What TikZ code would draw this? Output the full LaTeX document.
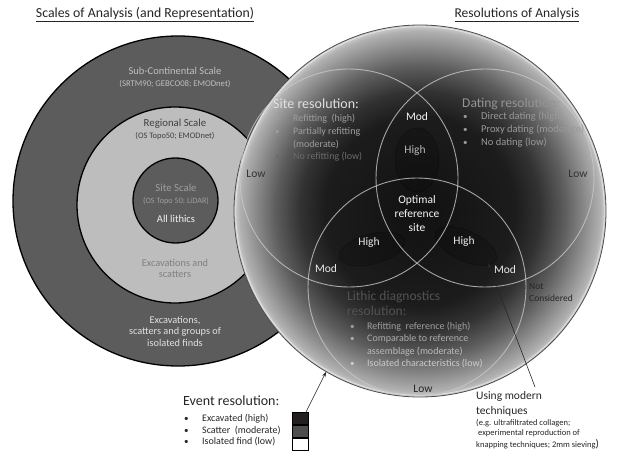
\documentclass[tikz,border=0pt]{standalone}
\usepackage{fontspec}
\setmainfont{Carlito}
\usetikzlibrary{arrows.meta}
\definecolor{ringdark}{HTML}{5C5C5C}
\definecolor{ringlight}{HTML}{BDBDBD}
\definecolor{gA}{HTML}{111111}
\definecolor{gB}{HTML}{1C1C1C}
\definecolor{gC}{HTML}{323232}
\definecolor{gD}{HTML}{5E5E5E}
\definecolor{gE}{HTML}{8C8C8C}
\definecolor{gF}{HTML}{B0B0B0}
\definecolor{gG}{HTML}{CFCFCF}
\definecolor{vennline}{HTML}{C8C8C8}
\definecolor{swgray}{HTML}{4D4D4D}
\definecolor{swblack}{HTML}{231F20}
\pgfdeclareradialshading{bigball}{\pgfpoint{0bp}{0bp}}{color(0bp)=(gA); color(12.8bp)=(gB); color(16.1bp)=(gC); color(19.5bp)=(gD); color(22.2bp)=(gE); color(24.2bp)=(gF); color(25bp)=(gG); color(50bp)=(gG)}
\begin{document}
\begin{tikzpicture}[x=1pt,y=-1pt,
  txt/.style={inner sep=0pt, anchor=mid},
  ltxt/.style={inner sep=0pt, anchor=mid west},
  fsz/.style={font=\fontsize{#1}{#1}\selectfont},
  ring/.style={circle, inner sep=0pt, draw=black, line width=1.3pt},
  venn/.style={circle, inner sep=0pt, draw=vennline, line width=0.9pt, opacity=0.8},
  loop/.style={fill=black, fill opacity=0.14, draw=black, draw opacity=0.3, line width=0.6pt},
  arr/.style={draw=black!85, line width=0.6pt, -{Stealth[length=5pt,width=3.5pt]}},
  sw/.style={rectangle, inner sep=0pt, minimum width=16pt, minimum height=12.3pt, draw=black, line width=0.5pt}]
\useasboundingbox[fill=white] (0,0) rectangle (617,454);

% titles
\node[txt, fsz=13.8, text=black!85] (t1) at (145,15) {\underline{Scales of Analysis (and Representation)}};
\node[txt, fsz=13.5, text=black!85] (t2) at (517,15) {\underline{Resolutions of Analysis}};

% left concentric circles
\node[ring, fill=ringdark, minimum size=330pt] (outer) at (178,201) {};
\node[ring, fill=ringlight, minimum size=196pt] (middle) at (175,205) {};
\node[ring, fill=ringdark, minimum size=85pt] (inner) at (175.5,200.5) {};

\node[txt, fsz=10.5, text=black!25] (sc) at (175,72) {Sub-Continental Scale};
\node[txt, fsz=8.7, text=black!25] (scs) at (175,84) {(SRTM90; GEBCO08; EMODnet)};
\node[txt, fsz=10.8, text=black!75] (rs) at (175,124) {Regional Scale};
\node[txt, fsz=8.4, text=black!75] (rss) at (175,136) {(OS Topo50; EMODnet)};
\node[txt, fsz=10.8, text=black!38] (ss) at (176,189) {Site Scale};
\node[txt, fsz=8.2, text=black!38] (sss) at (176,201) {(OS Topo 50; LiDAR)};
\node[txt, fsz=10.5, text=black!5] (al) at (176,220) {All lithics};
\node[txt, fsz=10.3, text=black!50] (es1) at (175,264) {Excavations and};
\node[txt, fsz=10.3, text=black!50] (es2) at (175,275.5) {scatters};
\node[txt, fsz=10.3, text=black!12] (eg1) at (175,321) {Excavations,};
\node[txt, fsz=10.3, text=black!12] (eg2) at (175,332.5) {scatters and groups of};
\node[txt, fsz=10.3, text=black!12] (eg3) at (175,344) {isolated finds};

% big shaded circle
\node[circle, inner sep=0pt, minimum size=372pt, shading=bigball, draw=black!70, line width=0.8pt] (big) at (420,211) {};
\node[circle, inner sep=0pt, minimum size=368.5pt, draw=white, draw opacity=0.45, line width=0.9pt] (bigrim) at (big.center) {};

% dark loops
\draw[loop] (417,160) ellipse [x radius=22, y radius=32];
\draw[loop, rotate around={15:(372,249)}] (372,249) ellipse [x radius=34, y radius=15];
\draw[loop, rotate around={-25:(466,246)}] (466,246) ellipse [x radius=33, y radius=15];

% Venn circles
\node[venn, minimum size=218pt] (siteC) at (349,178) {};
\node[venn, minimum size=218pt] (dateC) at (485,178) {};
\node[venn, minimum size=218pt] (lithC) at (417,287) {};

% site resolution
\node[ltxt, fsz=14, text=black!12] (srt) at (273,106) {Site resolution:};
\foreach \yy/\tt/\cc/\nm in {119/{Refitting\ \ (high)}/38/s1, 132/{Partially refitting}/38/s2, 157/{No refitting (low)}/58/s4}{
  \node[ltxt, fsz=9, text=black!\cc] (b\nm) at (275,\yy) {•};
  \node[ltxt, fsz=10, text=black!\cc] (\nm) at (293,\yy) {\tt};
}
\node[ltxt, fsz=10, text=black!38] (s3) at (293,145) {(moderate)};

% dating resolution
\node[ltxt, fsz=13.5, text=black!42] (drt) at (462,105) {Dating resolution:};
\foreach \yy/\tt/\nm in {117/{Direct dating (high)}/d1, 130/{Proxy dating (moderate)}/d2, 143/{No dating (low)}/d3}{
  \node[ltxt, fsz=9, text=black!40] (b\nm) at (463,\yy) {•};
  \node[ltxt, fsz=10.5, text=black!40] (\nm) at (481,\yy) {\tt};
}

% lithic diagnostics
\node[ltxt, fsz=13.5, text=black!68] (lt1) at (347,298) {Lithic diagnostics};
\node[ltxt, fsz=13.5, text=black!68] (lt2) at (347,313) {resolution:};
\node[ltxt, fsz=9, text=black!38] (bl1) at (350,327) {•};
\node[ltxt, fsz=10, text=black!38] (l1) at (367,327) {Refitting\ \ reference (high)};
\node[ltxt, fsz=9, text=black!32] (bl2) at (350,339.5) {•};
\node[ltxt, fsz=10, text=black!32] (l2) at (367,339.5) {Comparable to reference};
\node[ltxt, fsz=10, text=black!26] (l3) at (367,352) {assemblage (moderate)};
\node[ltxt, fsz=9, text=black!20] (bl4) at (350,364) {•};
\node[ltxt, fsz=10, text=black!20] (l4) at (367,364) {Isolated characteristics (low)};

% region labels
\node[txt, fsz=11.5, text=black!3] (modT) at (417,118) {Mod};
\node[txt, fsz=11.5, text=black!28] (highT) at (415,151) {High};
\node[txt, fsz=11.5, text=black!3] (opt1) at (417,201) {Optimal};
\node[txt, fsz=11.5, text=black!3] (opt2) at (417,215.5) {reference};
\node[txt, fsz=11.5, text=black!3] (opt3) at (417,229.5) {site};
\node[txt, fsz=11.5, text=black!8] (highL) at (369,243) {High};
\node[txt, fsz=11.5, text=black!8] (highR) at (464,242) {High};
\node[txt, fsz=11.5, text=black!8] (modL) at (326,270) {Mod};
\node[txt, fsz=11.5, text=black!8] (modR) at (505,271) {Mod};
\node[txt, fsz=11.5, text=black!80] (lowL) at (256,175) {Low};
\node[txt, fsz=11.5, text=black!80] (lowR) at (578,175) {Low};
\node[txt, fsz=11.5, text=black!85] (lowB) at (423,390) {Low};
\node[ltxt, fsz=9.5, text=black!85] (nc1) at (529,287) {Not};
\node[ltxt, fsz=9.5, text=black!85] (nc2) at (529,299) {Considered};

% event resolution legend
\node[ltxt, fsz=14, text=black!85] (evt) at (183,403) {Event resolution:};
\foreach \yy/\tt/\nm in {419/{Excavated (high)}/e1, 431/{Scatter\ \ (moderate)}/e2, 442/{Isolated find (low)}/e3}{
  \node[ltxt, fsz=9, text=black!85] (b\nm) at (184,\yy) {•};
  \node[ltxt, fsz=10, text=black!85] (\nm) at (202,\yy) {\tt};
}
\node[sw, fill=swblack, anchor=north west] (sw1) at (292,412) {};
\node[sw, fill=swgray, anchor=north] (sw2) at (sw1.south) {};
\node[sw, fill=white, anchor=north] (sw3) at (sw2.south) {};

% modern techniques
\node[ltxt, fsz=11.5, text=black!85] (um1) at (476,397) {Using modern};
\node[ltxt, fsz=11.5, text=black!85] (um2) at (476,412) {techniques};
\node[ltxt, fsz=8.5, text=black!85] (um3) at (476,423.5) {(e.g. ultrafiltrated collagen;};
\node[ltxt, fsz=8.5, text=black!85] (um4) at (478,433.5) {experimental reproduction of};
\node[ltxt, fsz=8.5, text=black!85] (um5) at (476,445) {knapping techniques; 2mm sieving{\fontsize{11}{11}\selectfont )}};

% arrows
\coordinate (evTail) at (303,418);
\coordinate (evHead) at (326,372);
\draw[arr] (evTail) -- (evHead);
\coordinate (umTail) at (535,387);
\coordinate (umHead) at (488,263);
\draw[arr] (umTail) -- (umHead);
\end{tikzpicture}
\end{document}
